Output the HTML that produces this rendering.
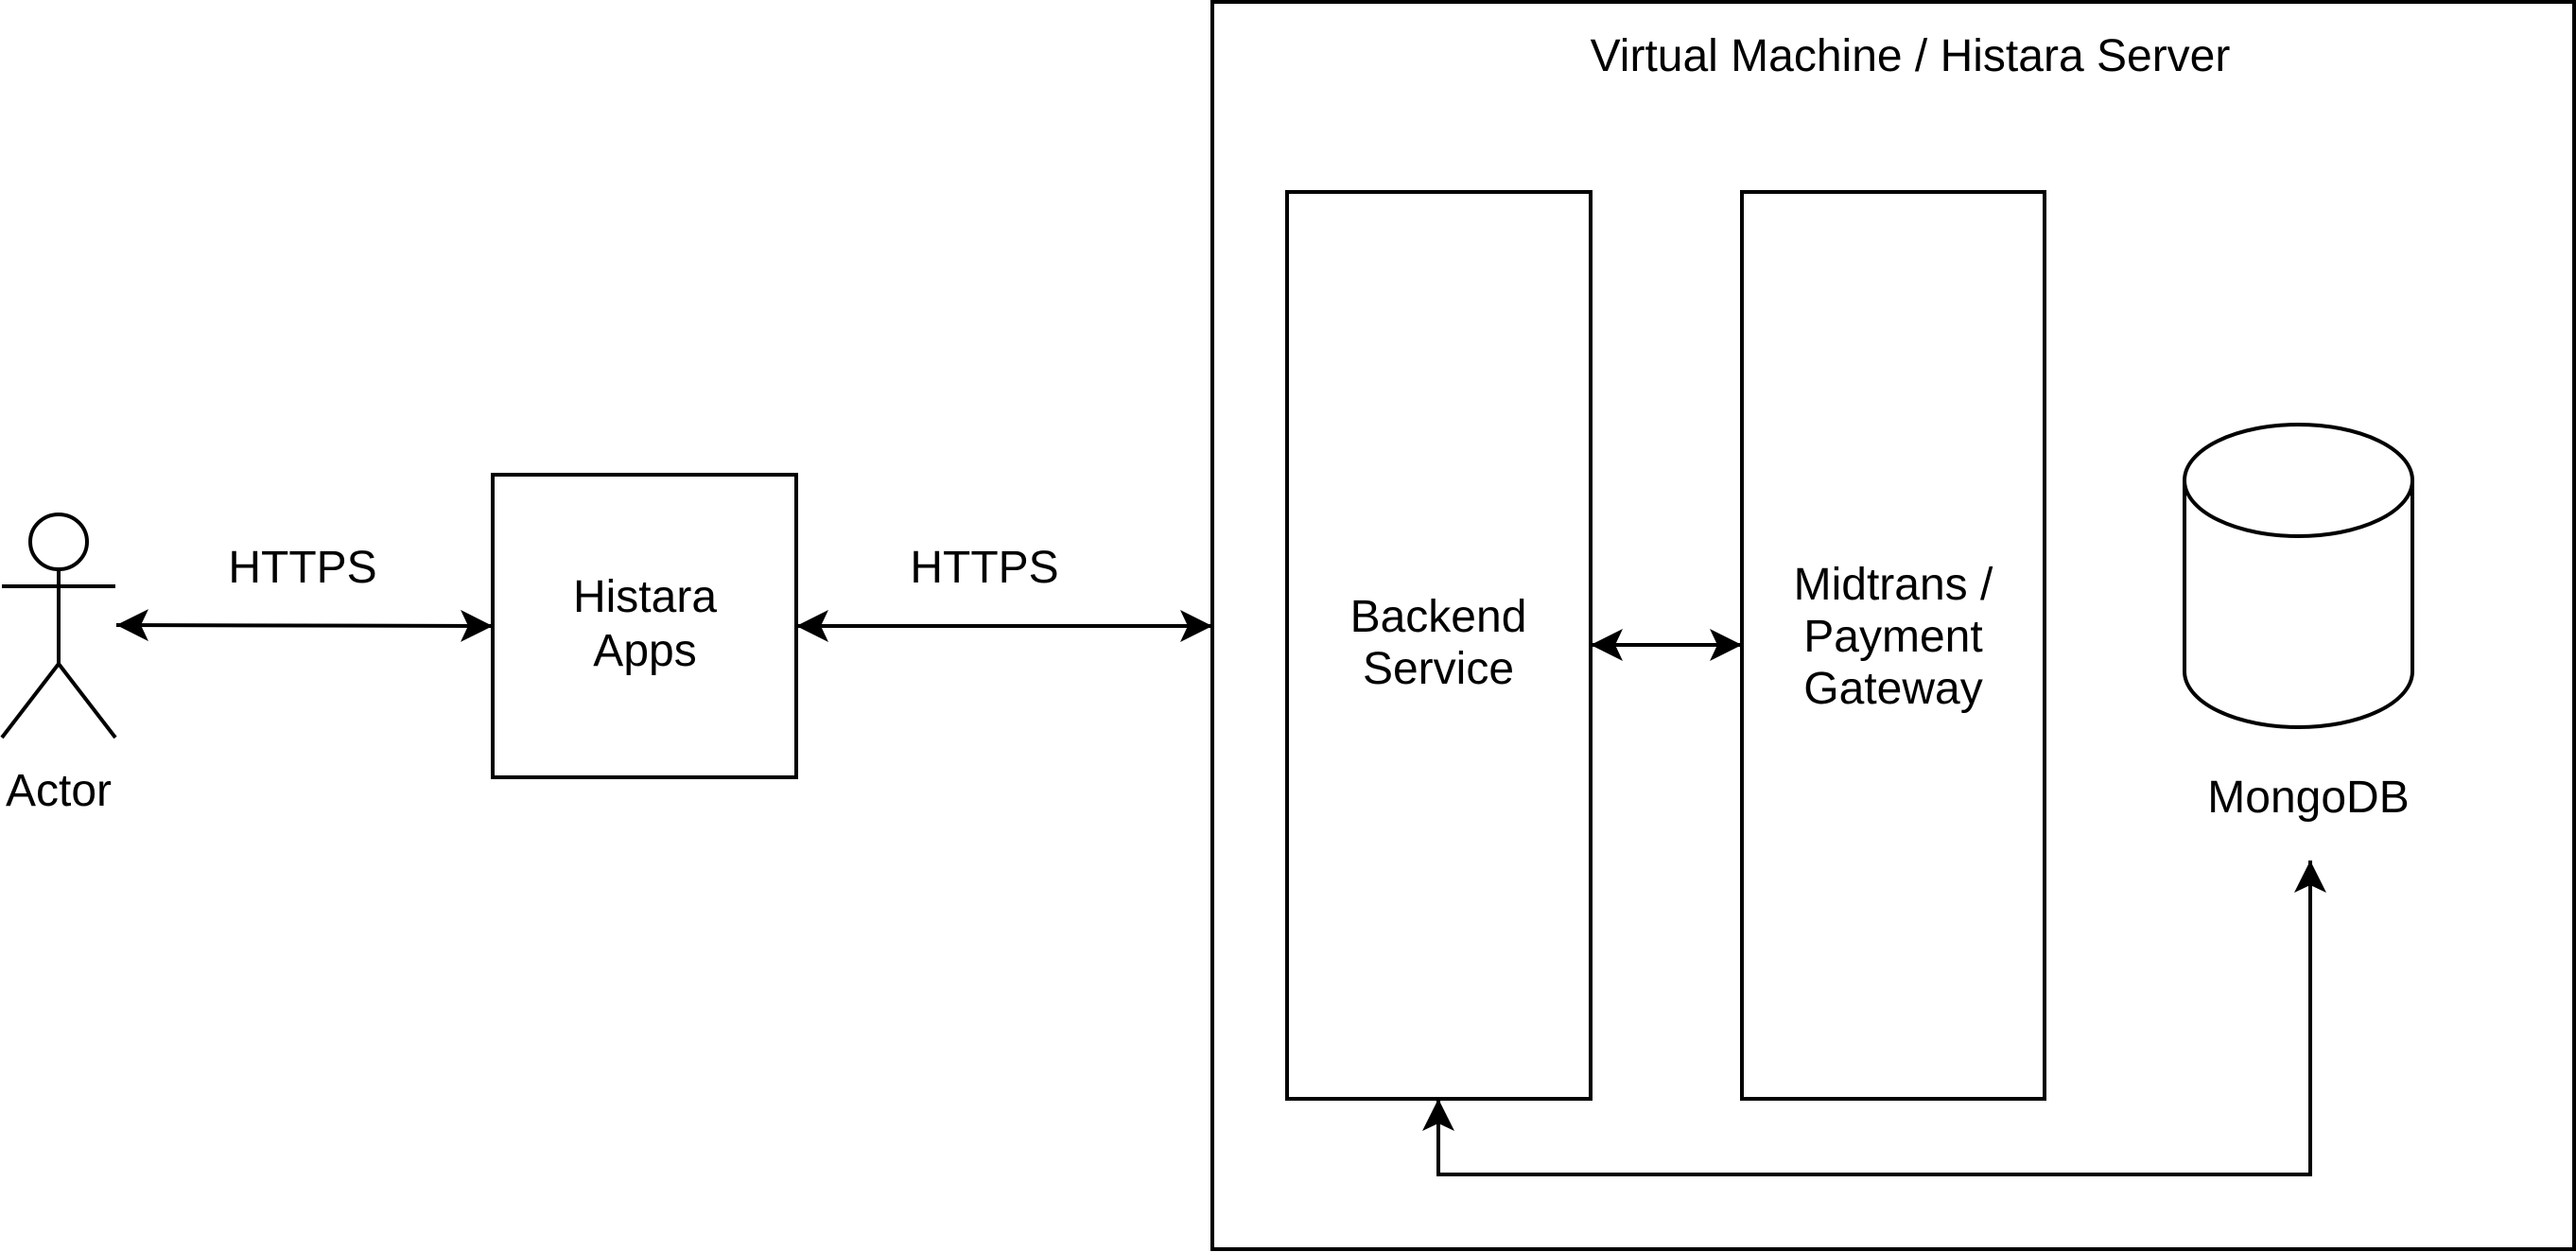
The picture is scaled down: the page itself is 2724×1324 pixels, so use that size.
<!DOCTYPE html>
<html><head><meta charset="utf-8"><style>
html,body{margin:0;padding:0;background:#fff;}
svg{display:block;}
text{font-family:"Liberation Sans",Arial,sans-serif;font-size:48px;fill:#000;text-anchor:middle;}
</style></head><body>
<svg width="2724" height="1324" viewBox="0 0 2724 1324" xmlns="http://www.w3.org/2000/svg">
<defs>
<marker id="ah" viewBox="0 0 34 34" refX="34" refY="17" markerWidth="34" markerHeight="34" markerUnits="userSpaceOnUse" orient="auto-start-reverse">
<path d="M0,0 L34,17 L0,34 L8,17 Z" fill="#000"/>
</marker>
</defs>
<g fill="none" stroke="#000" stroke-width="4">
<rect x="1282" y="2" width="1440" height="1319"/>
<rect x="1361" y="203" width="321" height="959"/>
<rect x="1842" y="203" width="320" height="959"/>
<rect x="521" y="502" width="321" height="320"/>
<path d="M2310,508 L2310,710 A120.5,59 0 0 0 2551,710 L2551,508"/>
<ellipse cx="2430.5" cy="508" rx="120.5" ry="59"/>
<ellipse cx="62" cy="573" rx="30" ry="29"/>
<line x1="62" y1="602" x2="62" y2="702"/>
<line x1="2" y1="620" x2="122" y2="620"/>
<line x1="62" y1="702" x2="2" y2="780"/>
<line x1="62" y1="702" x2="122" y2="780"/>
<line x1="123" y1="661" x2="521" y2="662" marker-start="url(#ah)" marker-end="url(#ah)"/>
<line x1="842" y1="662" x2="1282" y2="662" marker-start="url(#ah)" marker-end="url(#ah)"/>
<line x1="1682" y1="682" x2="1842" y2="682" marker-start="url(#ah)" marker-end="url(#ah)"/>
<polyline points="1521,1162 1521,1242 2443,1242 2443,910" marker-start="url(#ah)" marker-end="url(#ah)"/>
</g>
<text x="2020" y="75">Virtual Machine / Histara Server</text>
<text x="1521" y="668">Backend</text>
<text x="1521" y="723">Service</text>
<text x="2002" y="634">Midtrans /</text>
<text x="2002" y="689">Payment</text>
<text x="2002" y="744">Gateway</text>
<text x="2441" y="859">MongoDB</text>
<text x="682" y="647">Histara</text>
<text x="682" y="704">Apps</text>
<text x="320" y="616">HTTPS</text>
<text x="1041" y="616">HTTPS</text>
<text x="62" y="852">Actor</text>
</svg>
</body></html>
